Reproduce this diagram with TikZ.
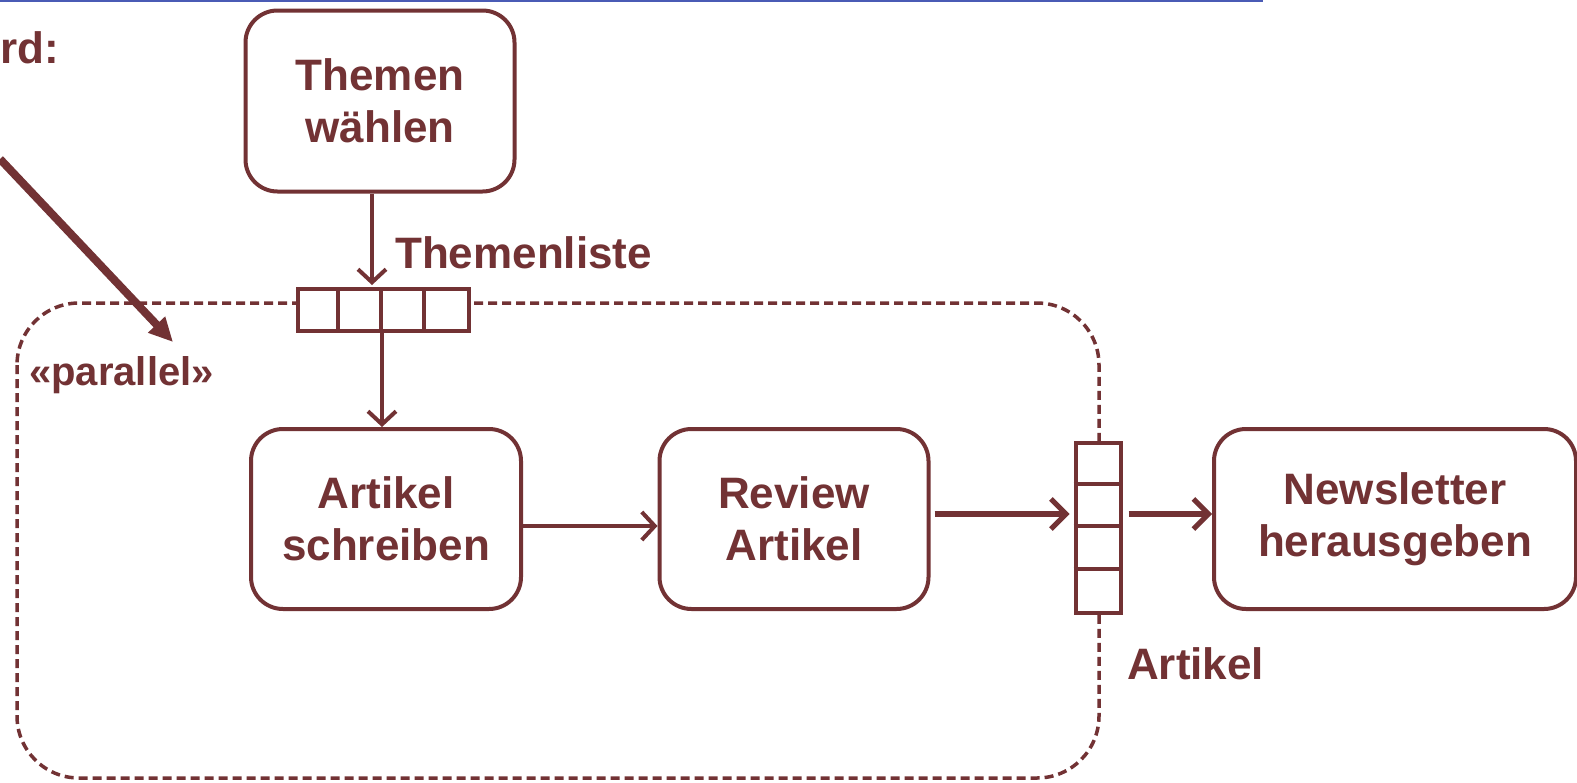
\documentclass[tikz,border=0pt]{standalone}
\usepackage{fontspec}
\setmainfont{Liberation Sans}
\usetikzlibrary{arrows.meta}
\definecolor{mr}{HTML}{723234}
\definecolor{bl}{HTML}{4A5BB5}
\tikzset{
  act/.style={draw=mr, line width=4pt, rounded corners=32pt, align=center,
    text=mr, font=\bfseries\fontsize{44}{52}\selectfont, inner sep=0pt},
  lbl/.style={text=mr, font=\bfseries\fontsize{44}{52}\selectfont, inner sep=0pt},
  pinbox/.style={draw=mr, line width=4pt, fill=white, inner sep=0pt},
  arr/.style={draw=mr, line width=4pt, -{Straight Barb[length=13pt,width=28pt,line width=4pt]}},
  tarr/.style={draw=mr, line width=6pt, -{Straight Barb[length=15pt,width=30pt,line width=5pt]}},
}
\begin{document}
\begin{tikzpicture}[x=1pt,y=-1pt]
\useasboundingbox (0,0) rectangle (1577,782);
\fill[white] (0,0) rectangle (1577,782);
% blue top line
\draw[bl, line width=3pt] (0,0.5) -- (1263,0.5);
% region
\draw[mr, line width=3.5pt, dash pattern=on 9pt off 5pt, rounded corners=62pt] (17,303) rectangle (1099,778);
% activities
\node[act, minimum width=269pt, minimum height=181pt] (th) at (380,101) {Themen\\wählen};
\node[act, minimum width=270pt, minimum height=180pt] (as) at (386,519) {Artikel\\schreiben};
\node[act, minimum width=269pt, minimum height=180pt] (rev) at (794,519) {Review\\Artikel};
\node[act, minimum width=362pt, minimum height=180pt] (nl) at (1395,519) {Newsletter\\herausgeben};
% pins
\node[pinbox, minimum width=171pt, minimum height=42pt] (pt) at (383,310) {};
\foreach \i in {1,2,3}{\draw[mr, line width=4pt] ([xshift=\i*42.75pt]pt.north west) -- ([xshift=\i*42.75pt]pt.south west);}
\node[pinbox, minimum width=45pt, minimum height=170pt] (pa) at (1098,528) {};
\foreach \i in {1,2,3}{\draw[mr, line width=4pt] ([yshift=-\i*42.5pt]pa.north west) -- ([yshift=-\i*42.5pt]pa.north east);}
% labels
\node[lbl, anchor=base west] (tl) at (395,268) {Themenliste};
\node[lbl, anchor=base west] (al) at (1127,679) {Artikel};
\node[lbl, anchor=base west] (rd) at (0,63) {rd:};
\node[text=mr, font=\bfseries\fontsize{40}{46}\selectfont, inner sep=0pt, anchor=base west] (par) at (29,385) {«parallel»};
% connectors
\draw[arr] ([xshift=-8pt]th.south) -- ([xshift=-11pt, yshift=2pt]pt.north);
\coordinate (ptb) at ([xshift=-1pt]pt.south);
\draw[arr] (ptb) -- (as.north -| ptb);
\draw[arr] ([yshift=-7pt]as.east) -- ([yshift=-7pt]rev.west);
\draw[tarr] ([xshift=4pt,yshift=5pt]rev.east) -- ([xshift=-4pt,yshift=14pt]pa.west);
\draw[tarr] ([xshift=6pt,yshift=14pt]pa.east) -- ([yshift=5pt]nl.west);
% stereotype pointer
\coordinate (d0) at (0,159);
\coordinate (d1) at (173,342);
\draw[mr, line width=8pt, -{Triangle[length=24pt,width=22pt]}] (d0) -- (d1);
\end{tikzpicture}
\end{document}
